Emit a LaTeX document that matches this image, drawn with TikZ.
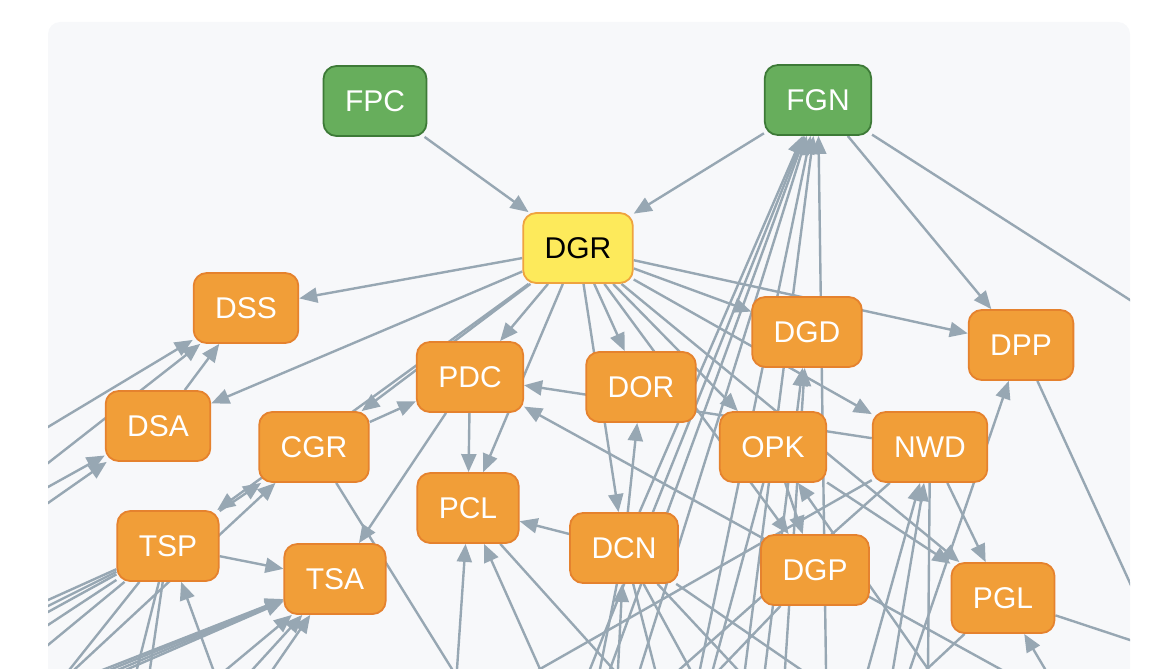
\documentclass[tikz,border=0pt]{standalone}
\usepackage{fontspec}
\setmainfont{Liberation Sans}
\usetikzlibrary{arrows.meta,calc}

\definecolor{panel}{HTML}{F7F8FA}
\definecolor{edgecol}{HTML}{97A7B3}
\definecolor{orfill}{HTML}{F19E38}
\definecolor{ordraw}{HTML}{E5822E}
\definecolor{grfill}{HTML}{67AE5C}
\definecolor{grdraw}{HTML}{3D7A37}
\definecolor{yefill}{HTML}{FDEA5B}
\definecolor{yedraw}{HTML}{EFA33F}

\pgfdeclarelayer{back}
\pgfdeclarelayer{links}
\pgfsetlayers{back,links,main}

\tikzset{
  box/.style={rectangle, rounded corners=13pt, minimum height=70pt, inner xsep=21.5pt,
    line width=1.8pt, font=\fontsize{30}{36}\selectfont, text=white, fill=orfill, draw=ordraw},
  src/.style={box, fill=grfill, draw=grdraw},
  hub/.style={box, fill=yefill, draw=yedraw, text=black},
  link/.style={draw=edgecol, line width=2.4pt, -{Triangle[length=18pt,width=15pt]}},
}

\begin{document}
\begin{tikzpicture}[x=1pt,y=-1pt]
\useasboundingbox (0,0) rectangle (1165,669);

% nodes
\node[src] (FPC) at (375,101) {FPC};
\node[src] (FGN) at (818,100) {FGN};
\node[hub] (DGR) at (578,248) {DGR};
\node[box] (DSS) at (246,308) {DSS};
\node[box] (DSA) at (158,426) {DSA};
\node[box] (CGR) at (314,447) {CGR};
\node[box] (PDC) at (470,377) {PDC};
\node[box] (PCL) at (468,508) {PCL};
\node[box] (DOR) at (641,387) {DOR};
\node[box] (DCN) at (624,548) {DCN};
\node[box] (DGD) at (807,332) {DGD};
\node[box] (DPP) at (1021,345) {DPP};
\node[box] (OPK) at (773,447) {OPK};
\node[box] (NWD) at (930,447) {NWD};
\node[box] (TSP) at (168,546) {TSP};
\node[box] (TSA) at (335,579) {TSA};
\node[box] (DGP) at (815,570) {DGP};
\node[box] (PGL) at (1003,598) {PGL};

\begin{pgfonlayer}{back}
  \fill[panel, rounded corners=12pt] (48,22) rectangle (1130,760);
\end{pgfonlayer}

\begin{pgfonlayer}{links}
\clip[rounded corners=12pt] (48,22) rectangle (1130,760);

% links between drawn nodes
\draw[link] (FPC) -- (DGR);
\draw[link] (FGN) -- (DGR);
\draw[link] (FGN) -- (DPP);
\draw[link] (DGR) -- (DSS);
\draw[link] (DGR) -- (DSA);
\draw[link] (DGR) -- (CGR);
\draw[link] (DGR) -- (TSP);
\draw[link] (DGR) -- (PDC);
\draw[link] (DGR) -- (PCL);
\draw[link] (DGR) -- (DOR);
\draw[link] (DGR) -- (DCN);
\draw[link] (DGR) -- (DGD);
\draw[link] (DGR) -- (DPP);
\draw[link] (DGR) -- (OPK);
\draw[link] (DGR) -- (NWD);
\draw[link] (DGR) -- (PGL);
\draw[link] (DGR) -- (DGP);
\draw[link] (DSA) -- (DSS);
\draw[link] (TSP) -- (CGR);
\draw[link] (TSP) -- (TSA);
\draw[link] (CGR) -- (PDC);
\draw[link] (PDC) -- (PCL);
\draw[link] (PDC) -- (TSA);
\draw[link] (DCN) -- (PCL);
\draw[link] (DCN) -- (DOR);
\draw[link] (DCN) -- (FGN);
\draw[link] (NWD) -- (PDC);
\draw[link] (OPK) -- (DGP);
\draw[link] (OPK) -- (PGL);
\draw[link] (NWD) -- (PGL);

% links to nodes beyond the panel edge
\coordinate (o1) at ($(DSS)!1.5!(48,427)$);  \draw[link] (o1) -- (DSS);
\coordinate (o2) at ($(DSS)!1.5!(48,463)$);  \draw[link] (o2) -- (DSS);
\coordinate (o3) at ($(DSA)!1.5!(48,487)$);  \draw[link] (o3) -- (DSA);
\coordinate (o4) at ($(DSA)!1.5!(48,503)$);  \draw[link] (o4) -- (DSA);
\coordinate (o5) at ($(TSP)!1.5!(48,600)$);  \draw[link] (TSP) -- (o5);
\coordinate (o6) at ($(TSP)!1.5!(48,606)$);  \draw[link] (TSP) -- (o6);
\coordinate (o7) at ($(TSP)!1.5!(48,612)$);  \draw[link] (TSP) -- (o7);
\coordinate (o8) at ($(TSP)!1.5!(48,625)$);  \draw[link] (TSP) -- (o8);
\coordinate (o9) at ($(TSP)!1.5!(48,645)$);  \draw[link] (TSP) -- (o9);
\coordinate (o10) at ($(TSP)!1.5!(70,669)$); \draw[link] (TSP) -- (o10);
\coordinate (o11) at ($(TSP)!1.5!(137,669)$); \draw[link] (TSP) -- (o11);
\coordinate (o12) at ($(TSP)!1.5!(150,669)$); \draw[link] (TSP) -- (o12);
\coordinate (o15) at ($(TSP)!1.5!(213,669)$); \draw[link] (o15) -- (TSP);
\coordinate (o16) at ($(CGR)!1.5!(75,669)$);  \draw[link] (o16) -- (CGR);
\coordinate (o17) at ($(TSA)!1.5!(105,669)$); \draw[link] (o17) -- (TSA);
\coordinate (o18) at ($(TSA)!1.5!(112,669)$); \draw[link] (o18) -- (TSA);
\coordinate (o19) at ($(TSA)!1.5!(120,669)$); \draw[link] (o19) -- (TSA);
\coordinate (o13) at ($(TSA)!1.5!(128,669)$); \draw[link] (o13) -- (TSA);
\coordinate (o20) at ($(TSA)!1.5!(227,669)$); \draw[link] (o20) -- (TSA);
\coordinate (o21) at ($(TSA)!1.5!(253,669)$); \draw[link] (o21) -- (TSA);
\coordinate (o14) at ($(TSA)!1.5!(273,669)$); \draw[link] (o14) -- (TSA);
\coordinate (o22) at ($(CGR)!1.5!(452,669)$); \draw[link] (CGR) -- (o22);
\coordinate (o23) at ($(PCL)!1.5!(457,669)$); \draw[link] (o23) -- (PCL);
\coordinate (o24) at ($(PCL)!1.5!(540,669)$); \draw[link] (o24) -- (PCL);
\coordinate (o25) at ($(PCL)!1.5!(613,669)$); \draw[link] (PCL) -- (o25);
\coordinate (o26) at ($(NWD)!1.5!(540,669)$); \draw[link] (NWD) -- (o26);
\coordinate (o27) at ($(NWD)!1.5!(680,669)$); \draw[link] (NWD) -- (o27);
\coordinate (o28) at ($(PDC)!1.5!(1000,669)$); \draw[link] (o28) -- (PDC);
\coordinate (o29) at ($(FGN)!1.5!(590,669)$); \draw[link] (o29) -- (FGN);
\coordinate (o30) at ($(FGN)!1.5!(610,669)$); \draw[link] (o30) -- (FGN);
\coordinate (o31) at ($(FGN)!1.5!(640,669)$); \draw[link] (o31) -- (FGN);
\coordinate (o32) at ($(FGN)!1.5!(700,669)$); \draw[link] (o32) -- (FGN);
\coordinate (o33) at ($(FGN)!1.5!(745,669)$); \draw[link] (o33) -- (FGN);
\coordinate (o34) at ($(FGN)!1.5!(826,669)$); \draw[link] (o34) -- (FGN);
\coordinate (o35) at ($(DCN)!1.5!(600,669)$); \draw[link] (DCN) -- (o35);
\coordinate (o36) at ($(DCN)!1.5!(655,669)$); \draw[link] (DCN) -- (o36);
\coordinate (o37) at ($(DCN)!1.5!(690,669)$); \draw[link] (DCN) -- (o37);
\coordinate (o38) at ($(DCN)!1.5!(737,669)$); \draw[link] (DCN) -- (o38);
\coordinate (o39) at ($(DCN)!1.5!(800,669)$); \draw[link] (DCN) -- (o39);
\coordinate (o40) at ($(DCN)!1.5!(618,669)$); \draw[link] (o40) -- (DCN);
\coordinate (o41) at ($(DGD)!1.5!(765,669)$); \draw[link] (o41) -- (DGD);
\coordinate (o42) at ($(DGD)!1.5!(785,669)$); \draw[link] (o42) -- (DGD);
\coordinate (o43) at ($(OPK)!1.5!(928,669)$); \draw[link] (o43) -- (OPK);
\coordinate (o44) at ($(OPK)!1.5!(713,669)$); \draw[link] (OPK) -- (o44);
\coordinate (o45) at ($(NWD)!1.5!(868,669)$); \draw[link] (o45) -- (NWD);
\coordinate (o46) at ($(NWD)!1.5!(893,669)$); \draw[link] (o46) -- (NWD);
\coordinate (o47) at ($(NWD)!1.5!(928,669)$); \draw[link] (NWD) -- (o47);
\coordinate (o48) at ($(DPP)!1.5!(910,669)$); \draw[link] (o48) -- (DPP);
\coordinate (o49) at ($(PGL)!1.5!(1045,669)$); \draw[link] (o49) -- (PGL);
\coordinate (o50) at ($(PGL)!1.5!(927,669)$); \draw[link] (PGL) -- (o50);
\coordinate (o51) at ($(DGP)!1.5!(720,669)$); \draw[link] (DGP) -- (o51);
\coordinate (o52) at ($(FGN)!1.5!(1130,300)$); \draw[link] (FGN) -- (o52);
\coordinate (o53) at ($(DPP)!1.5!(1130,583)$); \draw[link] (DPP) -- (o53);
\coordinate (o54) at ($(PGL)!1.5!(1130,640)$); \draw[link] (PGL) -- (o54);
\end{pgfonlayer}
\end{tikzpicture}
\end{document}
